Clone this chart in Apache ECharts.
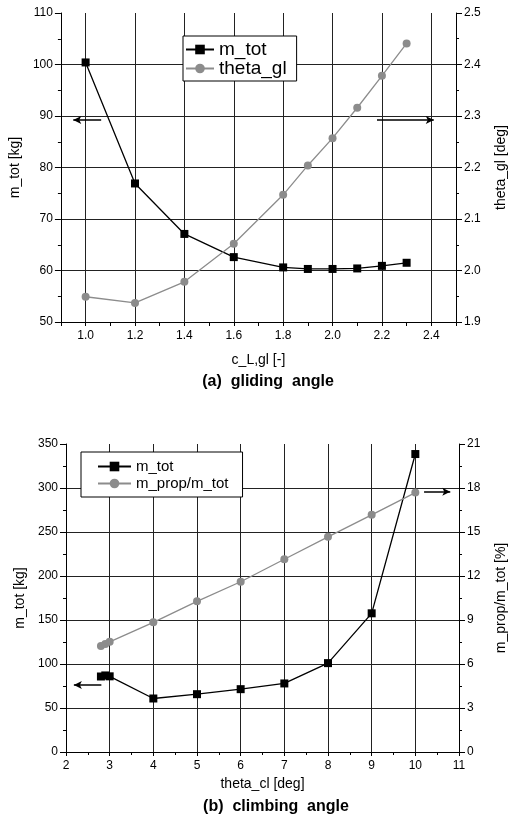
<!DOCTYPE html>
<html>
<head>
<meta charset="utf-8">
<script src="https://cdn.jsdelivr.net/npm/echarts@6/dist/echarts.min.js"></script>
<style>
html,body{margin:0;padding:0;background:#fff;}
#c{width:516px;height:825px;}
</style>
</head>
<body>
<div id="c"></div>
<script>
// ---- data: (a) gliding angle ----
const glideX = [1.0, 1.2, 1.4, 1.6, 1.8, 1.9, 2.0, 2.1, 2.2, 2.3];
const glideMtot = [100.4, 76.9, 67.1, 62.6, 60.6, 60.3, 60.3, 60.4, 60.9, 61.5];
const glideTheta = [1.949, 1.937, 1.978, 2.052, 2.147, 2.204, 2.257, 2.316, 2.378, 2.441];
// ---- data: (b) climbing angle ----
const climbX = [2.8, 2.9, 3.0, 4, 5, 6, 7, 8, 9, 10];
const climbMtot = [85.8, 87.0, 86.0, 60.8, 65.7, 71.4, 77.9, 101.0, 157.6, 338.6];
const climbProp = [7.22, 7.36, 7.51, 8.84, 10.27, 11.61, 13.14, 14.67, 16.17, 17.69];
// ---- labels ----
const captions = ['(a)  gliding  angle', '(b)  climbing  angle'];
const xNames = ['c_L,gl [-]', 'theta_cl [deg]'];
const yLeftNames = ['m_tot [kg]', 'm_tot [kg]'];
const yRightNames = ['theta_gl [deg]', 'm_prop/m_tot [%]'];
const seriesNames = ['m_tot', 'theta_gl', 'm_prop/m_tot'];

const FONT = 'Liberation Sans, Arial, sans-serif';
const GRID_C = '#222';
const GRAY = '#8c8c8c';

function zip(a, b) { return a.map((v, i) => [v, b[i]]); }

const axisLineS = { show: true, onZero: false, lineStyle: { color: '#000', width: 1 } };
const labelS = { color: '#000', fontSize: 12, fontFamily: FONT };
const nameS = { color: '#000', fontSize: 14, fontFamily: FONT };

const arrowML = (pairs) => ({
  silent: true,
  symbol: ['none', 'arrow'],
  symbolSize: [6, 8],
  label: { show: false },
  lineStyle: { color: '#000', width: 1.5, type: 'solid' },
  emphasis: { disabled: true },
  data: pairs.map(p => [{ coord: p[0] }, { coord: p[1] }])
});

const option = {
  animation: false,
  backgroundColor: '#fff',
  grid: [
    { left: 57, top: 13, width: 412, height: 309 },
    { left: 66, top: 444, width: 410, height: 308 }
  ],
  title: [
    { text: captions[0], left: 263, top: 369, textAlign: 'center',
      textStyle: { fontSize: 16, fontWeight: 'bold', color: '#000', fontFamily: FONT } },
    { text: captions[1], left: 271, top: 794, textAlign: 'center',
      textStyle: { fontSize: 16, fontWeight: 'bold', color: '#000', fontFamily: FONT } }
  ],
  legend: [
    { orient: 'vertical', left: 183, top: 36, itemWidth: 28, itemHeight: 12, itemGap: 0,
      padding: [4, 10, 3, 2], borderColor: '#000', borderWidth: 1, backgroundColor: '#fff',
      textStyle: { fontSize: 19, lineHeight: 19, fontFamily: FONT, color: '#000' },
      data: [seriesNames[0], seriesNames[1]] },
    { orient: 'vertical', left: 81, top: 452, itemWidth: 33, itemHeight: 12, itemGap: 0,
      padding: [6, 14, 5, 16], borderColor: '#000', borderWidth: 1, backgroundColor: '#fff',
      textStyle: { fontSize: 15, lineHeight: 17, fontFamily: FONT, color: '#000' },
      data: [seriesNames[0], seriesNames[2]] }
  ],
  xAxis: [
    { gridIndex: 0, type: 'value', min: 0.9, max: 2.5, interval: 0.1,
      name: xNames[0], nameLocation: 'middle', nameGap: 31, nameTextStyle: nameS,
      axisLine: axisLineS,
      axisTick: { show: true, length: 4, lineStyle: { color: '#000' } },
      axisLabel: Object.assign({}, labelS, { margin: 8,
        formatter: v => (Math.round(v * 10) % 2 === 0 ? v.toFixed(1) : '') }),
      splitLine: { show: true, lineStyle: { color: ['rgba(0,0,0,0)', GRID_C], width: 1 } } },
    { gridIndex: 1, type: 'value', min: 2, max: 11, interval: 1,
      name: xNames[1], nameLocation: 'middle', nameGap: 25, nameTextStyle: nameS,
      axisLine: axisLineS,
      axisTick: { show: true, length: 4, lineStyle: { color: '#000' } },
      minorTick: { show: true, splitNumber: 2, length: 3, lineStyle: { color: '#000' } },
      axisLabel: Object.assign({}, labelS, { margin: 8 }),
      splitLine: { show: true, showMinLine: false, showMaxLine: false, lineStyle: { color: GRID_C, width: 1 } } }
  ],
  yAxis: [
    { gridIndex: 0, type: 'value', position: 'left', min: 50, max: 110, interval: 10,
      name: yLeftNames[0], nameLocation: 'middle', nameGap: 30, nameRotate: 90, nameTextStyle: nameS,
      axisLine: axisLineS,
      axisTick: { show: true, length: 6, lineStyle: { color: '#000' } },
      minorTick: { show: true, splitNumber: 2, length: 3, lineStyle: { color: '#000' } },
      axisLabel: Object.assign({}, labelS, { margin: 8 }),
      splitLine: { show: true, showMinLine: false, showMaxLine: false, lineStyle: { color: GRID_C, width: 1 } } },
    { gridIndex: 0, type: 'value', position: 'right', min: 1.9, max: 2.5, interval: 0.1,
      name: yRightNames[0], nameLocation: 'middle', nameGap: 38, nameRotate: 90, nameTextStyle: nameS,
      axisLine: axisLineS,
      axisTick: { show: true, length: 6, lineStyle: { color: '#000' } },
      minorTick: { show: true, splitNumber: 2, length: 3, lineStyle: { color: '#000' } },
      axisLabel: Object.assign({}, labelS, { margin: 8, formatter: v => v.toFixed(1) }),
      splitLine: { show: false } },
    { gridIndex: 1, type: 'value', position: 'left', min: 0, max: 350, interval: 50,
      name: yLeftNames[1], nameLocation: 'middle', nameGap: 39, nameRotate: 90, nameTextStyle: nameS,
      axisLine: axisLineS,
      axisTick: { show: true, length: 6, lineStyle: { color: '#000' } },
      minorTick: { show: true, splitNumber: 2, length: 3, lineStyle: { color: '#000' } },
      axisLabel: Object.assign({}, labelS, { margin: 8 }),
      splitLine: { show: true, showMinLine: false, showMaxLine: false, lineStyle: { color: GRID_C, width: 1 } } },
    { gridIndex: 1, type: 'value', position: 'right', min: 0, max: 21, interval: 3,
      name: yRightNames[1], nameLocation: 'middle', nameGap: 35, nameRotate: 90, nameTextStyle: nameS,
      axisLine: axisLineS,
      axisTick: { show: true, length: 6, lineStyle: { color: '#000' } },
      minorTick: { show: true, splitNumber: 2, length: 3, lineStyle: { color: '#000' } },
      axisLabel: Object.assign({}, labelS, { margin: 8 }),
      splitLine: { show: false } }
  ],
  series: [
    { name: seriesNames[0], type: 'line', xAxisIndex: 0, yAxisIndex: 0,
      data: zip(glideX, glideMtot), symbol: 'rect', symbolSize: 8,
      itemStyle: { color: '#000' }, lineStyle: { color: '#000', width: 1.3 },
      markLine: arrowML([[[1.063, 89.2], [0.95, 89.2]], [[2.18, 89.2], [2.41, 89.2]]]) },
    { name: seriesNames[1], type: 'line', xAxisIndex: 0, yAxisIndex: 1,
      data: zip(glideX, glideTheta), symbol: 'circle', symbolSize: 8,
      itemStyle: { color: GRAY }, lineStyle: { color: GRAY, width: 1.3 } },
    { name: seriesNames[0], type: 'line', xAxisIndex: 1, yAxisIndex: 2,
      data: zip(climbX, climbMtot), symbol: 'rect', symbolSize: 8,
      itemStyle: { color: '#000' }, lineStyle: { color: '#000', width: 1.3 },
      markLine: arrowML([[[2.81, 76], [2.18, 76]], [[10.2, 295.8], [10.8, 295.8]]]) },
    { name: seriesNames[2], type: 'line', xAxisIndex: 1, yAxisIndex: 3,
      data: zip(climbX, climbProp), symbol: 'circle', symbolSize: 8,
      itemStyle: { color: GRAY }, lineStyle: { color: GRAY, width: 1.3 } }
  ]
};

const chart = echarts.init(document.getElementById('c'), null, { renderer: 'canvas' });
chart.setOption(option);
</script>
</body>
</html>
